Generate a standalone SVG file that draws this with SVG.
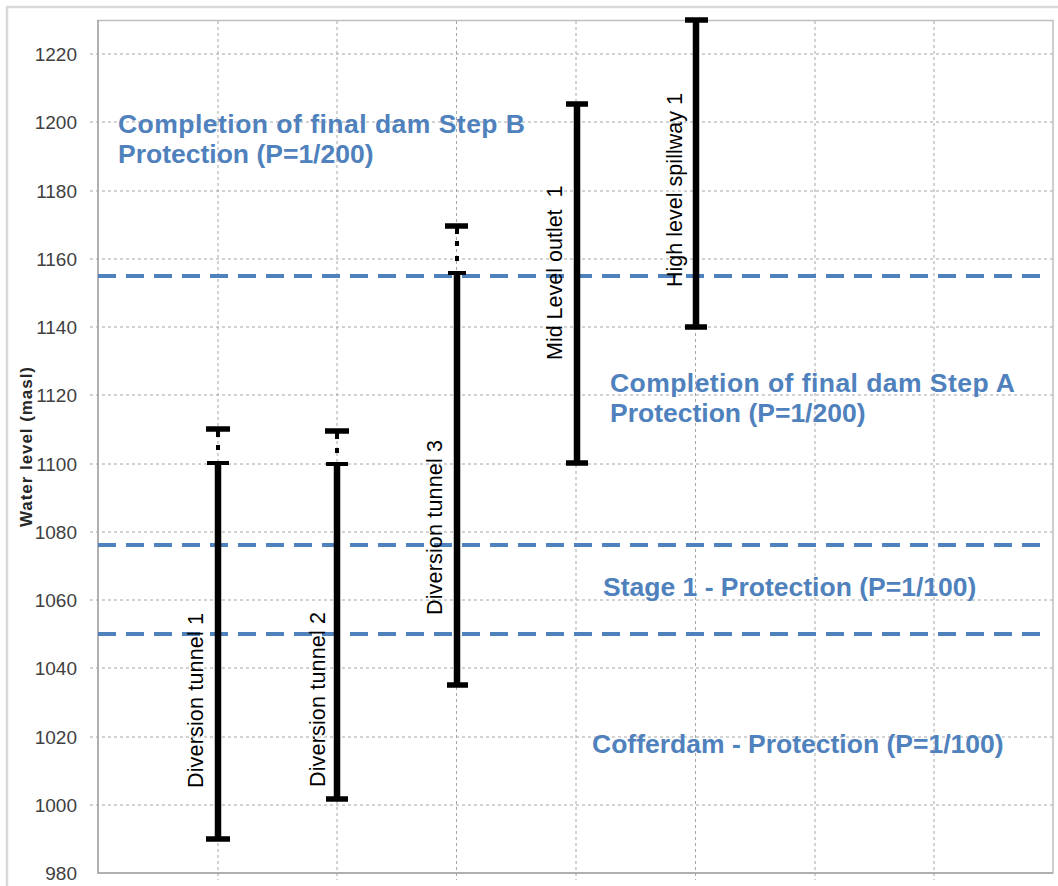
<svg xmlns="http://www.w3.org/2000/svg" width="1058" height="886" viewBox="0 0 1058 886">
<style>
.grid{stroke:#a6a6a6;stroke-width:1;stroke-dasharray:3 3;fill:none}
.frame{stroke:#bfbfbf;stroke-width:1.5;fill:none}
.tick{font-family:"Liberation Sans",Arial,sans-serif;font-size:19px;fill:#404040;text-anchor:end}
.ref{stroke:#4f81bd;stroke-width:4;stroke-dasharray:18 10;fill:none}
.note{font-family:"Liberation Sans",Arial,sans-serif;font-size:26.5px;font-weight:bold;fill:#4f81bd}
.bar{stroke:#000;stroke-width:6.5;fill:none}
.cap{stroke:#000;stroke-width:5.5;fill:none}
.thin{stroke:#000;stroke-width:4;fill:none}
.lbl{font-family:"Liberation Sans",Arial,sans-serif;font-size:21.5px;fill:#000}
.axl{font-family:"Liberation Sans",Arial,sans-serif;font-size:17px;font-weight:bold;fill:#262626;text-anchor:middle}
</style>
<rect x="0" y="0" width="1058" height="886" fill="#fff"/>
<rect x="7" y="7" width="1070" height="900" fill="#fff" stroke="#d9d9d9" stroke-width="2.5"/>
<g id="grid">
<path class="grid" d="M90 54H1053M90 122H1053M90 191H1053M90 259H1053M90 327H1053M90 395H1053M90 464H1053M90 532H1053M90 600H1053M90 668H1053M90 737H1053M90 805H1053"/>
<path class="grid" d="M218 21V880M337 21V880M456.5 21V880M576 21V880M695.5 21V880M815 21V880M934 21V880"/>
</g>
<g id="plot-frame">
<rect class="frame" x="98" y="20.5" width="955" height="852.5"/>
<path d="M98 20V873H1053" stroke="#a6a6a6" stroke-width="1.5" fill="none"/>
</g>
<g id="y-axis">
<text class="tick" x="77" y="880">980</text>
<text class="tick" x="77" y="812">1000</text>
<text class="tick" x="77" y="744">1020</text>
<text class="tick" x="77" y="675">1040</text>
<text class="tick" x="77" y="607">1060</text>
<text class="tick" x="77" y="539">1080</text>
<text class="tick" x="77" y="471">1100</text>
<text class="tick" x="77" y="402">1120</text>
<text class="tick" x="77" y="334">1140</text>
<text class="tick" x="77" y="266">1160</text>
<text class="tick" x="77" y="198">1180</text>
<text class="tick" x="77" y="129">1200</text>
<text class="tick" x="77" y="61">1220</text>
<text class="axl" transform="translate(32,447) rotate(-90)" textLength="160" lengthAdjust="spacing">Water level (masl)</text>
</g>
<g id="protection-levels">
<path class="ref" d="M98 276H1040"/>
<path class="ref" d="M98 545H1040"/>
<path class="ref" d="M98 634H1040"/>
</g>
<g id="note-step-b">
<text class="note" x="118" y="133" textLength="407" lengthAdjust="spacing">Completion of final dam Step B</text>
<text class="note" x="118" y="163">Protection (P=1/200)</text>
</g>
<g id="note-step-a">
<text class="note" x="610" y="392" textLength="405" lengthAdjust="spacing">Completion of final dam Step A</text>
<text class="note" x="610" y="422">Protection (P=1/200)</text>
</g>
<g id="note-stage1">
<text class="note" x="603" y="596">Stage 1 - Protection (P=1/100)</text>
</g>
<g id="note-cofferdam">
<text class="note" x="592" y="753">Cofferdam - Protection (P=1/100)</text>
</g>
<g id="diversion-tunnel-1">
<path class="bar" d="M218 463V839"/>
<path class="cap" d="M206 839H230M206 429H230"/>
<path class="thin" d="M207 463H229M218 429V437"/>
<rect x="216" y="445" width="4" height="5" fill="#000"/>
<text class="lbl" transform="translate(203,788) rotate(-90)" textLength="175" lengthAdjust="spacing">Diversion tunnel 1</text>
</g>
<g id="diversion-tunnel-2">
<path class="bar" d="M337 464V799"/>
<path class="cap" d="M326 799H348M325 431H349"/>
<path class="thin" d="M326 464H348M337 431V439"/>
<rect x="335" y="448" width="4" height="5" fill="#000"/>
<text class="lbl" transform="translate(325,787) rotate(-90)" textLength="175" lengthAdjust="spacing">Diversion tunnel 2</text>
</g>
<g id="diversion-tunnel-3">
<path class="bar" d="M457 273V685"/>
<path class="cap" d="M447 685H468M445 226H468"/>
<path class="thin" d="M448 273H466M457 226V234"/>
<rect x="455" y="241" width="4" height="5" fill="#000"/>
<rect x="455" y="256" width="4" height="5" fill="#000"/>
<text class="lbl" transform="translate(442,615) rotate(-90)" textLength="175" lengthAdjust="spacing">Diversion tunnel 3</text>
</g>
<g id="mid-level-outlet-1">
<path class="bar" d="M577 104V463"/>
<path class="cap" d="M566 104H588M566 463H588"/>
<text class="lbl" transform="translate(562,360) rotate(-90)">Mid Level outlet <tspan dx="6">1</tspan></text>
</g>
<g id="high-level-spillway-1">
<path class="bar" d="M696 20V327"/>
<path class="cap" d="M685 20H708M685 327H707"/>
<text class="lbl" transform="translate(682,287) rotate(-90)" textLength="194" lengthAdjust="spacing">High level spillway 1</text>
</g>
</svg>
